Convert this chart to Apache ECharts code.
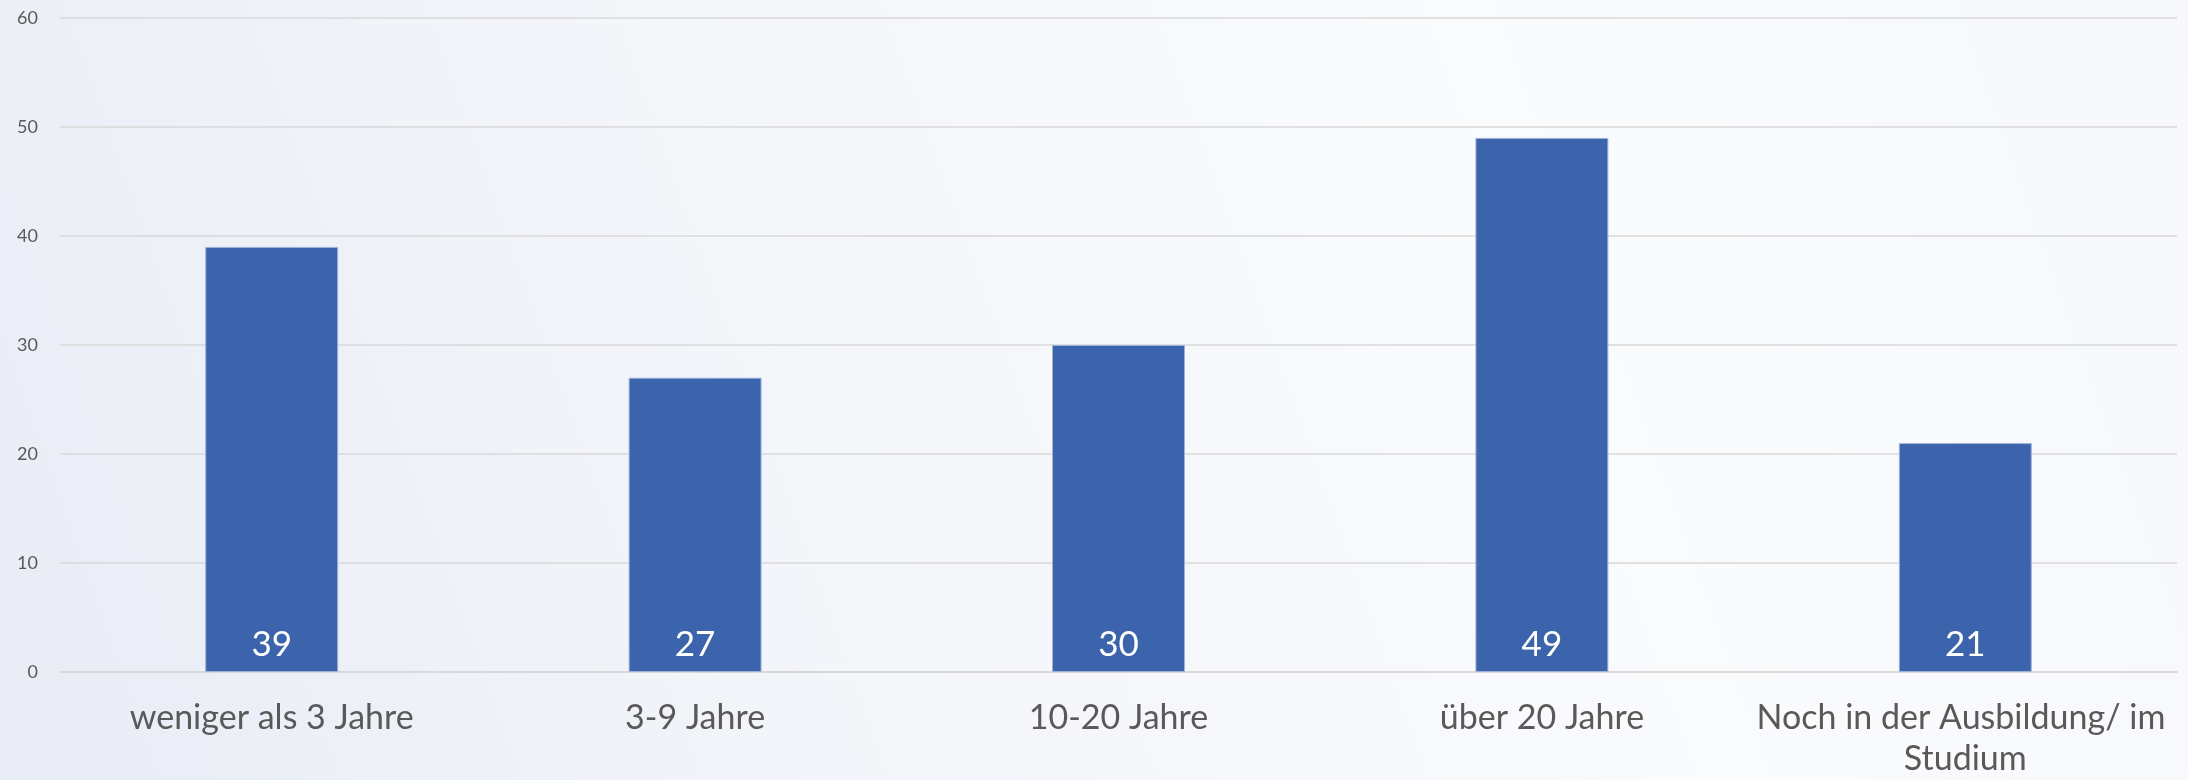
<!DOCTYPE html>
<html>
<head>
<meta charset="utf-8">
<script src="https://cdn.jsdelivr.net/npm/echarts@6/dist/echarts.min.js"></script>
<style>
    html, body { margin: 0; padding: 0; }
    #main { width: 2188px; height: 780px; }
</style>
</head>
<body>
<div id="main"></div>
<script type="text/javascript">
    // Berufserfahrung
    var categories = ['weniger als 3 Jahre', '3-9 Jahre', '10-20 Jahre', 'über 20 Jahre', 'Noch in der Ausbildung/ im Studium'];
    var values = [39, 27, 30, 49, 21];
    var yTicks = [0, 10, 20, 30, 40, 50, 60];

    var myChart = echarts.init(document.getElementById('main'));
    var option = {
        backgroundColor: {
            type: 'linear', x: 0, y: 1, x2: 1, y2: 0,
            colorStops: [
                { offset: 0, color: '#e8ecf5' },
                { offset: 0.35, color: '#f3f5fa' },
                { offset: 0.7, color: '#fafbfd' },
                { offset: 1, color: '#f7f8fb' }
            ]
        },
        textStyle: { fontFamily: 'Lato' },
        grid: { left: 60, right: 11, top: 18, bottom: 108 },
        xAxis: {
            type: 'category',
            data: categories,
            axisTick: { show: false },
            axisLine: { lineStyle: { color: '#d6d6d6', width: 1.5 } },
            axisLabel: {
                color: '#595959',
                fontSize: 34,
                margin: 26,
                lineHeight: 41,
                interval: 0,
                width: 430,
                overflow: 'break'
            }
        },
        yAxis: {
            type: 'value',
            min: yTicks[0],
            max: yTicks[yTicks.length - 1],
            interval: 10,
            axisLine: { show: false },
            axisTick: { show: false },
            axisLabel: { color: '#595959', fontSize: 18, margin: 22 },
            splitLine: { lineStyle: { color: '#d9d9d9', width: 1.5 } }
        },
        series: [{
            name: 'Anzahl',
            type: 'bar',
            data: values,
            barWidth: '31.4%',
            itemStyle: { color: '#3b64ac', borderColor: '#9fb3d8', borderWidth: 1 },
            label: {
                show: true,
                position: 'insideBottom',
                distance: 10,
                color: '#ffffff',
                fontSize: 35
            }
        }]
    };
    myChart.setOption(option, true);
</script>
</body>
</html>
